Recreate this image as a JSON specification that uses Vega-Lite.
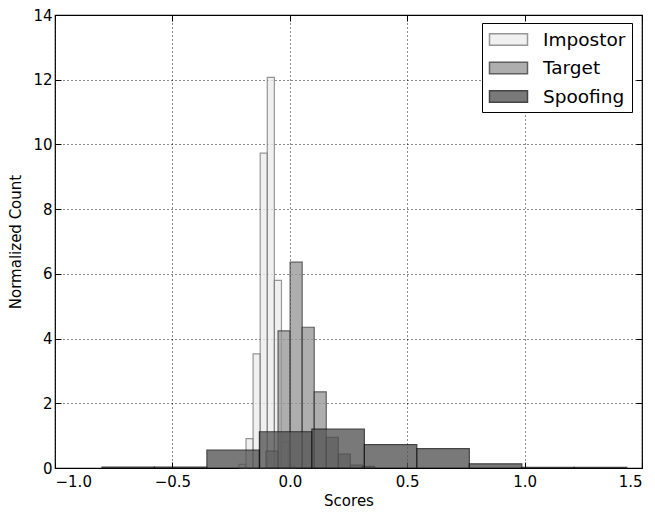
{
  "$schema": "https://vega.github.io/schema/vega-lite/v6.json",
  "width": 587,
  "height": 453,
  "autosize": "none",
  "padding": {"left": 55, "top": 15, "right": 13, "bottom": 44},
  "background": "white",
  "config": {
    "font": "DejaVu Sans",
    "view": {"stroke": "black", "strokeWidth": 1.2},
    "axis": {
      "domain": false,
      "grid": true,
      "gridColor": "black",
      "gridDash": [1, 3],
      "gridWidth": 1,
      "gridOpacity": 0.9,
      "tickColor": "black",
      "tickSize": -6,
      "tickWidth": 1,
      "labelFont": "DejaVu Sans",
      "labelFontSize": 15,
      "labelColor": "black",
      "titleFont": "DejaVu Sans",
      "titleFontSize": 15,
      "titleFontWeight": "normal",
      "titleColor": "black"
    },
    "legend": {
      "labelFont": "DejaVu Sans",
      "labelFontSize": 18.5,
      "labelColor": "black"
    }
  },
  "data": {
    "values": [
      {"series": "Impostor", "x0": -0.2167, "x1": -0.1865, "count": 0.11},
      {"series": "Impostor", "x0": -0.1865, "x1": -0.1563, "count": 0.91},
      {"series": "Impostor", "x0": -0.1563, "x1": -0.1261, "count": 3.53},
      {"series": "Impostor", "x0": -0.1261, "x1": -0.0959, "count": 9.73},
      {"series": "Impostor", "x0": -0.0959, "x1": -0.0657, "count": 12.07},
      {"series": "Impostor", "x0": -0.0657, "x1": -0.0355, "count": 5.8},
      {"series": "Impostor", "x0": -0.0355, "x1": -0.0053, "count": 0.8},
      {"series": "Impostor", "x0": -0.0053, "x1": 0.0249, "count": 0.05},
      {"series": "Target", "x0": -0.1013, "x1": -0.05, "count": 0.52},
      {"series": "Target", "x0": -0.05, "x1": 0.0013, "count": 4.24},
      {"series": "Target", "x0": 0.0013, "x1": 0.0526, "count": 6.36},
      {"series": "Target", "x0": 0.0526, "x1": 0.1039, "count": 4.35},
      {"series": "Target", "x0": 0.1039, "x1": 0.1552, "count": 2.35},
      {"series": "Target", "x0": 0.1552, "x1": 0.2065, "count": 0.95},
      {"series": "Target", "x0": 0.2065, "x1": 0.2578, "count": 0.43},
      {"series": "Target", "x0": 0.2578, "x1": 0.3091, "count": 0.09},
      {"series": "Target", "x0": 0.3091, "x1": 0.3604, "count": 0.05},
      {"series": "Spoofing", "x0": -0.8, "x1": -0.5765, "count": 0.025},
      {"series": "Spoofing", "x0": -0.5765, "x1": -0.353, "count": 0.025},
      {"series": "Spoofing", "x0": -0.353, "x1": -0.1295, "count": 0.55},
      {"series": "Spoofing", "x0": -0.1295, "x1": 0.094, "count": 1.12},
      {"series": "Spoofing", "x0": 0.094, "x1": 0.3175, "count": 1.2},
      {"series": "Spoofing", "x0": 0.3175, "x1": 0.541, "count": 0.72},
      {"series": "Spoofing", "x0": 0.541, "x1": 0.7645, "count": 0.6},
      {"series": "Spoofing", "x0": 0.7645, "x1": 0.988, "count": 0.13},
      {"series": "Spoofing", "x0": 0.988, "x1": 1.2115, "count": 0.02},
      {"series": "Spoofing", "x0": 1.2115, "x1": 1.435, "count": 0.02}
    ]
  },
  "layer": [
    {
      "mark": {"type": "bar", "opacity": 0.78, "strokeWidth": 1.2},
      "encoding": {
        "x": {
          "field": "x0", "type": "quantitative",
          "scale": {"domain": [-1, 1.5], "nice": false, "zero": false},
          "axis": {
            "orient": "bottom", "title": "Scores", "values": [-1, -0.5, 0, 0.5, 1, 1.5],
            "labelExpr": "replace(format(datum.value, '.1f'), '-', '\u2212')",
            "labelPadding": 12, "titlePadding": 4
          }
        },
        "x2": {"field": "x1"},
        "y": {
          "field": "count", "type": "quantitative", "stack": null,
          "scale": {"domain": [0, 14], "nice": false},
          "axis": {"orient": "left", "title": "Normalized Count", "values": [0, 2, 4, 6, 8, 10, 12, 14], "labelPadding": 9, "titlePadding": 9}
        },
        "y2": {"datum": 0},
        "fill": {
          "field": "series", "type": "nominal",
          "scale": {"domain": ["Impostor", "Target", "Spoofing"], "range": ["#ececec", "#989898", "#545454"]},
          "legend": {
            "title": null, "orient": "none", "legendX": 427, "legendY": 8,
            "strokeColor": "black", "fillColor": "white", "padding": 6,
            "symbolType": "M-2,-0.6L2,-0.6L2,0.6L-2,0.6Z", "symbolSize": 361,
            "symbolOffset": 10, "labelOffset": 24, "rowPadding": 8.5, "symbolOpacity": 0.78
          }
        },
        "stroke": {
          "field": "series", "type": "nominal",
          "scale": {"domain": ["Impostor", "Target", "Spoofing"], "range": ["#7a7a7a", "#333333", "#111111"]},
          "legend": null
        }
      }
    },
    {
      "mark": {"type": "bar", "opacity": 0},
      "encoding": {
        "x": {
          "field": "x0", "type": "quantitative",
          "axis": {"orient": "top", "title": null, "labels": false, "grid": false, "values": [-1, -0.5, 0, 0.5, 1, 1.5]}
        },
        "x2": {"field": "x1"},
        "y": {
          "field": "count", "type": "quantitative", "stack": null,
          "axis": {"orient": "right", "title": null, "labels": false, "grid": false, "values": [0, 2, 4, 6, 8, 10, 12, 14]}
        },
        "y2": {"datum": 0}
      }
    }
  ],
  "resolve": {"axis": {"x": "independent", "y": "independent"}}
}
